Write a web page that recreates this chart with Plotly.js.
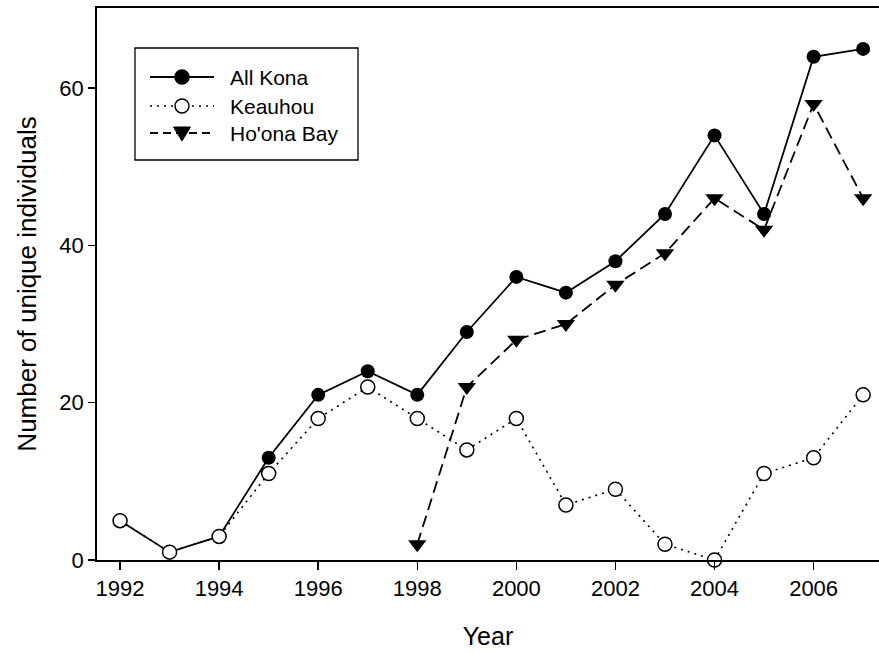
<!DOCTYPE html>
<html>
<head>
<meta charset="utf-8">
<script src="https://cdn.plot.ly/plotly-3.0.1.min.js"></script>
<style>html,body{margin:0;padding:0;background:#fff}#chart{width:879px;height:652px}</style>
</head>
<body>
<div id="chart"></div>
<script>
var years = [1992,1993,1994,1995,1996,1997,1998,1999,2000,2001,2002,2003,2004,2005,2006,2007];
var allKona = [5,1,3,13,21,24,21,29,36,34,38,44,54,44,64,65];
var keauhou = [5,1,3,11,18,22,18,14,18,7,9,2,0,11,13,21];
var hoonaYears = [1998,1999,2000,2001,2002,2003,2004,2005,2006,2007];
var hoonaBay = [2,22,28,30,35,39,46,42,58,46];
var seriesNames = ['All Kona', 'Keauhou', "Ho'ona Bay"];
var xTicks = [1992,1994,1996,1998,2000,2002,2004,2006];
var yTicks = [0,20,40,60];

var M = {l: 97, r: 0, t: 8, b: 92};
var W = 879, H = 652;
var pw = W - M.l - M.r, ph = H - M.t - M.b;
function px(x) { return (x - M.l) / pw; }
function py(y) { return (H - M.b - y) / ph; }

var traces = [
  {x: years, y: allKona, name: seriesNames[0], mode: 'lines+markers', cliponaxis: false, showlegend: false,
   line: {color: '#000', width: 1.8},
   marker: {symbol: 'circle', size: 14, color: '#000'}},
  {x: hoonaYears, y: hoonaBay, name: seriesNames[2], mode: 'lines+markers', cliponaxis: false, showlegend: false,
   line: {color: '#000', width: 1.8, dash: '12px,6px'},
   marker: {symbol: 'triangle-down', size: 16, color: '#000'}},
  {x: years, y: keauhou, name: seriesNames[1], mode: 'lines+markers', cliponaxis: false, showlegend: false,
   line: {color: '#000', width: 1.6, dash: '2px,5px'},
   marker: {symbol: 'circle', size: 14, color: '#fff', line: {color: '#000', width: 1.5}}}
];

// custom legend box
var rows = [77, 106, 133];
var dashes = ['solid', '2px,5px', '8px,5px'];
var shapes = [
  {type: 'rect', xref: 'paper', yref: 'paper', x0: px(135), x1: px(358), y0: py(48), y1: py(160),
   line: {color: '#000', width: 1.3}, fillcolor: 'rgba(0,0,0,0)'}
];
var annotations = [];
rows.forEach(function (ry, i) {
  shapes.push({type: 'line', xref: 'paper', yref: 'paper', x0: px(150), x1: px(214), y0: py(ry), y1: py(ry),
    line: {color: '#000', width: i === 1 ? 1.6 : 1.8, dash: dashes[i]}});
  if (i < 2) {
    shapes.push({type: 'circle', xref: 'paper', yref: 'paper', xsizemode: 'pixel', ysizemode: 'pixel',
      xanchor: px(182), yanchor: py(ry), x0: -7, x1: 7, y0: -7, y1: 7,
      fillcolor: i === 0 ? '#000' : '#fff', line: {color: '#000', width: 1.5}});
  } else {
    shapes.push({type: 'path', xref: 'paper', yref: 'paper', xsizemode: 'pixel', ysizemode: 'pixel',
      xanchor: px(182), yanchor: py(ry), path: 'M -8.5,6 L 8.5,6 L 0,-8 Z',
      fillcolor: '#000', line: {color: '#000', width: 1}});
  }
  annotations.push({xref: 'paper', yref: 'paper', x: px(228), y: py(ry), xanchor: 'left', yanchor: 'middle',
    text: seriesNames[i], showarrow: false, font: {size: 21, color: '#000'}});
});

var layout = {
  width: W, height: H,
  margin: M,
  paper_bgcolor: '#fff', plot_bgcolor: '#fff',
  font: {family: 'Liberation Sans, Arial, sans-serif', color: '#000', size: 22},
  showlegend: false,
  shapes: shapes,
  annotations: annotations,
  xaxis: {
    range: [1991.535, 2007.32],
    tickvals: xTicks, ticktext: xTicks.map(String),
    ticks: 'outside', ticklen: 8, tickwidth: 1.5, tickcolor: '#000',
    showline: true, linecolor: '#000', linewidth: 1.8, mirror: true,
    showgrid: false, zeroline: false,
    tickfont: {size: 22},
    title: {text: 'Year', font: {size: 25}, standoff: 27}
  },
  yaxis: {
    range: [0, 70.2],
    tickvals: yTicks, ticktext: yTicks.map(String),
    ticks: 'outside', ticklen: 7, tickwidth: 1.5, tickcolor: '#000',
    showline: true, linecolor: '#000', linewidth: 1.8,
    showgrid: false, zeroline: false,
    tickfont: {size: 22},
    title: {text: 'Number of unique individuals', font: {size: 26}, standoff: 15}
  }
};

Plotly.newPlot('chart', traces, layout, {displayModeBar: false, staticPlot: true});
</script>
</body>
</html>
